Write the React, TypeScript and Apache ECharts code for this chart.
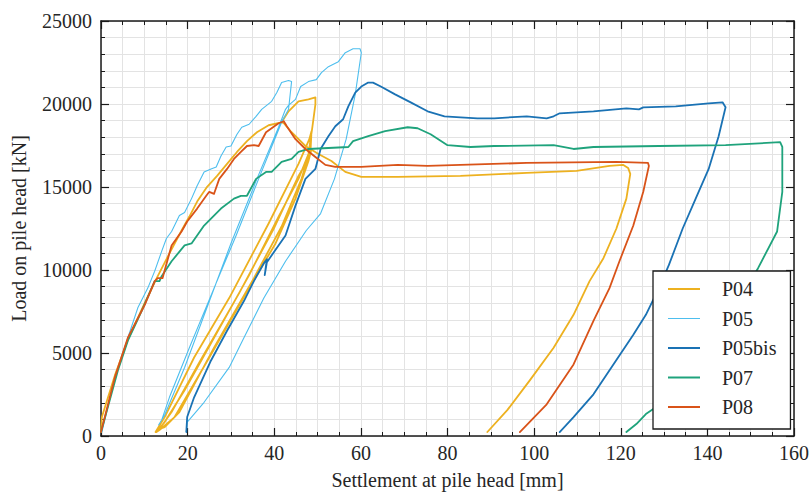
import React, { useEffect, useRef } from "react";
import * as echarts from "echarts";

type Pt = [number, number];

// Settlement [mm], Load [kN]
const p04Cycles: Pt[] = [
  [0, 240], [0.2, 1140], [3.2, 3650], [6.2, 5800], [10.1, 8020], [13.1, 9630], [15.8, 11000],
  [18.6, 12380], [20.4, 13220], [22.2, 14120], [24.5, 15010], [26.8, 15670], [29.1, 16390],
  [31.4, 17110], [33.7, 17760], [36.0, 18300], [38.7, 18720], [41.7, 18900], [43.3, 19560],
  [45.6, 20160], [47.9, 20280], [49.5, 20400],
  [49.5, 19980], [48.8, 18600], [47.9, 16990], [45.6, 15490], [41.0, 13220], [34.2, 9690],
  [26.1, 5920], [19.3, 2750], [14.7, 840], [12.8, 240],
  [13.5, 360], [17.0, 1140], [25.0, 4730], [34.2, 8910], [40.3, 11600], [44.9, 14300],
  [47.9, 16570], [48.6, 17290],
  [47.9, 16690], [45.6, 15670], [39.9, 12500], [31.9, 8610], [22.7, 4430], [16.3, 1440], [13.5, 420],
  [14.7, 540], [18.1, 1440], [26.1, 5320], [35.3, 9510], [41.7, 12620], [46.3, 15490],
  [48.4, 17290], [48.6, 18360],
  [48.1, 17880], [45.6, 16390], [38.7, 12800], [29.6, 8310], [21.5, 4730], [14.7, 1140], [12.6, 240],
];

const p04PostPeak: Pt[] = [
  [41.7, 18900], [42.2, 18840], [44.0, 18300], [47.2, 17470], [50.2, 16990], [53.2, 16570],
  [56.4, 15910], [60.1, 15610], [68.5, 15610], [83.0, 15670], [98.3, 15850], [109.8, 15970],
  [117.4, 16270], [120.6, 16330], [121.7, 16150], [122.2, 15790], [121.3, 14300], [119.0, 12500],
  [116.0, 10710], [112.8, 9330], [109.1, 7300], [104.5, 5320], [99.0, 3350], [93.8, 1560], [89.2, 240],
];

const p05: Pt[] = [
  [0.2, 240], [3.2, 3530], [6.2, 5920], [8.5, 7720], [10.8, 8910], [12.4, 9930], [14.0, 11120],
  [15.1, 11900], [16.3, 12320], [18.1, 13280], [19.3, 13460], [20.9, 14300], [22.2, 15070],
  [23.8, 15910], [25.4, 16090], [26.6, 16210], [27.7, 16870], [28.9, 17410], [30.0, 17470],
  [31.4, 18180], [32.5, 18600], [34.2, 18780], [35.8, 19260], [37.1, 19680], [39.4, 20160],
  [40.6, 20690], [41.7, 21290], [43.3, 21410], [44.0, 21350],
  [43.3, 19680], [41.7, 18900], [36.4, 15490], [31.2, 12080], [26.1, 8910], [20.4, 5320],
  [15.8, 2330], [14.0, 960], [13.3, 660],
  [14.7, 1260], [19.3, 4130], [30.0, 11600], [36.0, 15490], [41.0, 18600], [42.6, 19680],
  [43.3, 19920], [44.9, 20280], [46.1, 21050], [47.9, 21350], [49.7, 21470], [50.9, 21890],
  [52.5, 22250], [54.8, 22550], [56.4, 23090], [58.2, 23330], [59.8, 23330],
  [60.1, 23090], [58.7, 20580], [56.6, 17880], [53.9, 15490], [50.7, 13400], [47.4, 12380],
  [42.6, 10530], [37.6, 8310], [33.0, 5920], [29.6, 4130], [23.8, 2030], [20.9, 1140],
  [19.9, 840], [19.7, 240],
];

const p05bis: Pt[] = [
  [19.7, 240], [19.9, 1140], [21.5, 2330], [25.4, 4550], [29.1, 6340], [33.0, 8130], [35.3, 9330],
  [37.6, 10410], [38.3, 10650], [37.8, 9690], [38.3, 10470], [42.6, 12080], [44.9, 13880],
  [47.2, 15490], [49.5, 16090], [50.7, 17290], [52.5, 18060], [54.1, 18660], [55.9, 19080],
  [57.1, 19860], [58.7, 20690], [60.1, 21050], [61.7, 21290], [62.8, 21290], [64.6, 21050],
  [67.9, 20580], [71.5, 20100], [75.4, 19560], [79.3, 19260], [83.0, 19200], [86.9, 19140],
  [90.8, 19140], [98.3, 19260], [102.9, 19140], [104.5, 19260], [105.9, 19440], [113.7, 19560],
  [121.3, 19740], [124.2, 19680], [125.2, 19800], [132.7, 19860], [140.3, 20040], [143.5, 20100],
  [144.2, 19800], [142.6, 18060], [140.3, 16090], [137.3, 14300], [134.3, 12500], [131.1, 10290],
  [128.8, 8910], [125.8, 7300], [122.9, 6100], [118.3, 4310], [113.7, 2510], [109.1, 1140],
  [105.9, 240],
];

const p07: Pt[] = [
  [0, 240], [3.9, 3950], [6.2, 5740], [9.4, 7540], [12.4, 9330], [13.5, 9330], [14.0, 9630],
  [16.3, 10530], [19.3, 11480], [20.9, 11600], [23.8, 12680], [25.4, 13100], [27.7, 13700],
  [30.7, 14300], [32.3, 14470], [33.7, 14470], [35.8, 15490], [38.1, 15910], [39.4, 15910],
  [41.7, 16510], [44.0, 16690], [45.6, 17110], [47.9, 17290], [52.5, 17350], [57.1, 17410],
  [58.2, 17760], [61.7, 18060], [65.6, 18360], [70.8, 18600], [73.1, 18540], [76.1, 18180],
  [80.0, 17520], [85.3, 17410], [90.8, 17470], [104.5, 17520], [109.1, 17290], [113.7, 17410],
  [128.8, 17470], [144.2, 17520], [156.8, 17700], [157.3, 17410], [157.3, 14710], [156.1, 12320],
  [151.7, 10110], [147.6, 8310], [141.9, 5920], [135.0, 3530], [128.1, 1730], [125.8, 1320],
  [123.6, 720], [121.3, 240],
];

const p08: Pt[] = [
  [0, 240], [3.2, 3530], [6.2, 5920], [10.1, 7900], [12.4, 9330], [13.1, 9510], [14.2, 9510],
  [16.3, 11480], [18.6, 12320], [19.9, 12920], [22.2, 13700], [24.3, 14470], [25.0, 14710],
  [26.1, 14590], [27.3, 15490], [29.1, 16090], [30.7, 16690], [32.3, 17110], [33.7, 17470],
  [35.3, 17520], [36.4, 17470], [38.1, 18300], [41.0, 18840], [42.2, 18960], [42.9, 18660],
  [44.9, 17880], [47.2, 17290], [49.5, 16810], [51.8, 16330], [54.1, 16210], [60.1, 16210],
  [68.5, 16330], [75.4, 16270], [98.3, 16450], [119.0, 16510], [126.3, 16450], [126.5, 16270],
  [125.2, 14710], [122.9, 12680], [119.7, 10530], [117.4, 8910], [113.7, 6940], [109.1, 4310],
  [102.9, 1910], [96.7, 240],
];

const seriesNames = ["P04", "P05", "P05bis", "P07", "P08"];
const colors: Record<string, string> = {
  P04: "#EDB120",
  P05: "#4DBEEE",
  P05bis: "#1a72b4",
  P07: "#1fa37c",
  P08: "#D95319",
};

const FONT = "Liberation Serif";

export default function App() {
  const ref = useRef<HTMLDivElement>(null);
  useEffect(() => {
    if (!ref.current) return;
    const chart = echarts.init(ref.current, null, { renderer: "svg" });
    const mk = (name: string, data: Pt[], width: number) => ({
      name,
      type: "line",
      data,
      symbol: "none",
      showSymbol: false,
      color: colors[name],
      lineStyle: { color: colors[name], width, join: "round", cap: "round" },
      xAxisIndex: 0,
      yAxisIndex: 0,
    });
    const axisCommon = {
      axisLine: { show: true, onZero: false, lineStyle: { color: "#1a1a1a", width: 1.5 } },
      axisTick: { show: true, inside: true, length: 8, lineStyle: { color: "#1a1a1a", width: 1.2 } },
      minorTick: { show: true, length: 4, lineStyle: { color: "#1a1a1a", width: 1 } },
    };
    const fmt = (v: number) => String(v);
    chart.setOption({
      animation: false,
      backgroundColor: "#ffffff",
      textStyle: { fontFamily: FONT },
      grid: { left: 101, top: 21, right: 12, bottom: 56 },
      xAxis: [
        {
          type: "value", min: 0, max: 160, interval: 20, position: "bottom",
          ...axisCommon,
          minorTick: { ...axisCommon.minorTick, splitNumber: 4 },
          axisLabel: { fontFamily: FONT, fontSize: 20, color: "#262626", margin: 7, formatter: fmt },
          splitLine: { show: true, lineStyle: { color: "#e3e3e3", width: 1 } },
          minorSplitLine: { show: true, lineStyle: { color: "#e3e3e3", width: 1 } },
          name: "Settlement at pile head [mm]",
          nameLocation: "middle",
          nameGap: 34,
          nameTextStyle: { fontFamily: FONT, fontSize: 20, color: "#262626" },
        },
        {
          type: "value", min: 0, max: 160, interval: 20, position: "top",
          ...axisCommon,
          minorTick: { ...axisCommon.minorTick, splitNumber: 4 },
          axisLabel: { show: false },
          splitLine: { show: false },
        },
      ],
      yAxis: [
        {
          type: "value", min: 0, max: 25000, interval: 5000, position: "left",
          ...axisCommon,
          minorTick: { ...axisCommon.minorTick, splitNumber: 5 },
          axisLabel: { fontFamily: FONT, fontSize: 20, color: "#262626", margin: 9, formatter: fmt },
          splitLine: { show: true, lineStyle: { color: "#e3e3e3", width: 1 } },
          minorSplitLine: { show: true, lineStyle: { color: "#e3e3e3", width: 1 } },
          name: "Load on pile head [kN]",
          nameLocation: "middle",
          nameGap: 72,
          nameTextStyle: { fontFamily: FONT, fontSize: 20, color: "#262626" },
        },
        {
          type: "value", min: 0, max: 25000, interval: 5000, position: "right",
          ...axisCommon,
          minorTick: { ...axisCommon.minorTick, splitNumber: 5 },
          axisLabel: { show: false },
          splitLine: { show: false },
        },
      ],
      legend: {
        orient: "vertical",
        left: 653,
        top: 271,
        padding: [8, 14, 12, 15],
        itemGap: 9.5,
        itemWidth: 32,
        itemHeight: 2,
        backgroundColor: "#ffffff",
        borderColor: "#1a1a1a",
        borderWidth: 1.3,
        borderRadius: 0,
        textStyle: { fontFamily: FONT, fontSize: 20, lineHeight: 20, color: "#262626", padding: [0, 0, 0, 17] },
        data: seriesNames.map((n) => ({
          name: n,
          icon: n === "P05" ? "path://M0,0h32v1h-32z" : "rect",
        })),
      },
      series: [
        mk("P04", p04Cycles, 1.8),
        mk("P04", p04PostPeak, 1.8),
        mk("P05", p05, 1.1),
        mk("P05bis", p05bis, 1.8),
        mk("P07", p07, 1.8),
        mk("P08", p08, 1.8),
      ],
    });
    return () => chart.dispose();
  }, []);
  return (
    <div
      ref={ref}
      style={{ position: "fixed", left: 0, top: 0, width: 812, height: 495, background: "#fff" }}
    />
  );
}
